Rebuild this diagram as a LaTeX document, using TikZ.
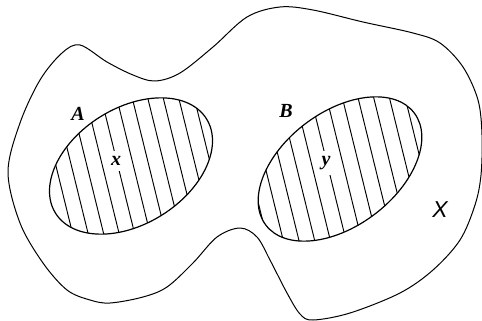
\documentclass[tikz,border=0pt]{standalone}
\usepackage{fontspec}
\setmainfont{Liberation Serif}
\newfontfamily\lsans{Liberation Sans}
\tikzset{
  outline/.style={line width=1pt, line join=round},
  setline/.style={line width=1.2pt},
  hatch/.style={line width=0.95pt},
  setlabel/.style={font=\fontsize{20}{20}\selectfont\bfseries\itshape, inner sep=0pt},
  ptlabel/.style={font=\fontsize{20}{20}\selectfont\bfseries\itshape, fill=white, inner xsep=2pt, inner ysep=5pt},
  spacelabel/.style={font=\fontsize{23}{23}\selectfont\lsans\itshape, inner sep=0pt}
}
\begin{document}
\begin{tikzpicture}[x=1pt,y=-1pt]
\useasboundingbox (0,0) rectangle (482,321);
% outer region X
\draw[outline] plot[smooth cycle, tension=0.55] coordinates {
 (8,172) (20,123) (40,80) (62,53) (80,45) (107,62) (133,75) (155,81)
 (180,73) (213,47) (247,17) (280,7) (313,10) (363,22) (413,33) (440,43)
 (463,67) (478,100) (482,135) (481,175) (475,205) (460,240) (433,270)
 (400,293) (350,313) (313,320) (300,314) (287,293) (270,260) (257,237)
 (240,228) (217,237) (193,263) (167,287) (143,297) (110,303) (90,300)
 (67,290) (43,263) (20,223)};
% set A
\begin{scope}
  \clip[rotate around={32:(131,166)}] (131,166) ellipse [x radius=89, y radius=58];
  \foreach \k in {-9,...,9}
    \draw[hatch] ({117+15.5*\k-32},{162-130}) -- ({117+15.5*\k+32},{162+130});
\end{scope}
\draw[setline, rotate around={32:(131,166)}] (131,166) ellipse [x radius=89, y radius=58];
% set B
\begin{scope}
  \clip[rotate around={37:(340,169)}] (340,169) ellipse [x radius=93, y radius=57];
  \foreach \k in {-9,...,9}
    \draw[hatch] ({327+15.7*\k-32},{163-130}) -- ({327+15.7*\k+32},{163+130});
\end{scope}
\draw[setline, rotate around={37:(340,169)}] (340,169) ellipse [x radius=93, y radius=57];
% labels
\node[setlabel] (la) at (78,114) {A};
\node[setlabel] (lb) at (286,111) {B};
\node[ptlabel] (lx) at (116,161) {x};
\node[ptlabel] (ly) at (326,163) {y};
\node[spacelabel] (lX) at (440,210) {X};
\end{tikzpicture}
\end{document}
